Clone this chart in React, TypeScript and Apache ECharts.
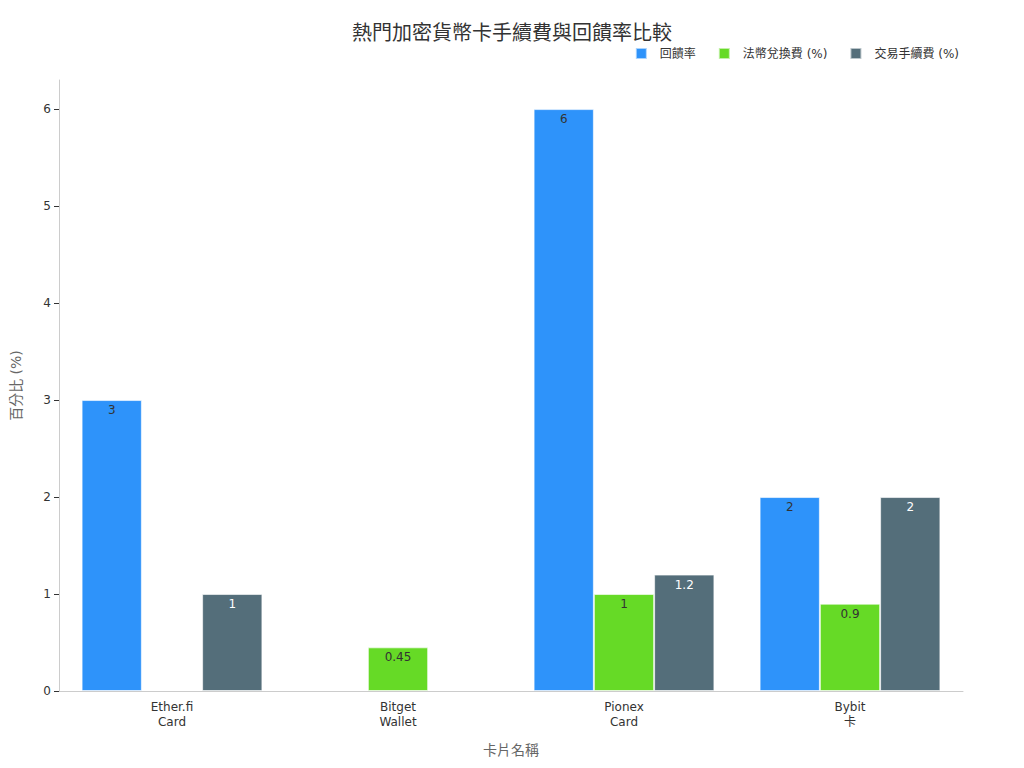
import { useEffect, useRef } from 'react';
import * as echarts from 'echarts';

const categories = ['Ether.fi\nCard', 'Bitget\nWallet', 'Pionex\nCard', 'Bybit\n卡'];
const seriesNames = ['回饋率', '法幣兌換費 (%)', '交易手續費 (%)'];
const cashback = [3, null, 6, 2];
const fxFee = [null, 0.45, 1, 0.9];
const tradeFee = [1, null, 1.2, 2];
const yTicks = [0, 1, 2, 3, 4, 5, 6];

const colors = ['#2E93FA', '#66DA26', '#546E7A'];
const labelColors = ['#333', '#333', '#fff'];
const font = '"DejaVu Sans", "Noto Sans CJK TC", sans-serif';

const App = () => {
    const chartRef = useRef<HTMLDivElement>(null);

    useEffect(() => {
        if (!chartRef.current) return;
        const chart = echarts.init(chartRef.current, null, { renderer: 'svg' });
        const values = [cashback, fxFee, tradeFee];

        chart.setOption({
            animation: false,
            textStyle: { fontFamily: font },
            title: {
                text: '熱門加密貨幣卡手續費與回饋率比較',
                left: 'center',
                top: 18,
                textStyle: { fontSize: 20, fontWeight: 'normal', color: '#333', fontFamily: font }
            },
            legend: {
                data: seriesNames,
                right: 60,
                top: 42,
                icon: 'rect',
                itemWidth: 11,
                itemHeight: 11,
                itemGap: 22,
                textStyle: { fontSize: 12, color: '#333', padding: [0, 0, 0, 8] }
            },
            grid: { left: 59, right: 61, top: 80, bottom: 77 },
            xAxis: {
                type: 'category',
                data: categories,
                name: '卡片名稱',
                nameLocation: 'middle',
                nameGap: 52,
                nameTextStyle: { fontSize: 14, color: '#666' },
                axisLine: { lineStyle: { color: '#ccc' } },
                axisTick: { alignWithLabel: true, lineStyle: { color: '#999' } },
                axisLabel: { color: '#333', fontSize: 12, lineHeight: 15 }
            },
            yAxis: {
                type: 'value',
                min: 0,
                max: 6.3,
                interval: 1,
                name: '百分比 (%)',
                nameLocation: 'middle',
                nameGap: 36,
                nameTextStyle: { fontSize: 14, color: '#666' },
                axisLine: { show: true, lineStyle: { color: '#ccc' } },
                axisTick: { show: true, customValues: yTicks, lineStyle: { color: '#333' } },
                axisLabel: { customValues: yTicks, color: '#333', fontSize: 12 },
                splitLine: { show: false }
            },
            series: seriesNames.map((name, i) => ({
                name,
                type: 'bar',
                data: values[i],
                barGap: '0%',
                barCategoryGap: '20%',
                itemStyle: { color: colors[i], borderColor: 'rgba(255,255,255,0.6)', borderWidth: 1 },
                label: {
                    show: true,
                    position: 'insideTop',
                    distance: 4,
                    color: labelColors[i],
                    fontSize: 12
                }
            }))
        });

        return () => chart.dispose();
    }, []);

    return <div ref={chartRef} style={{ position: 'absolute', left: 0, top: 0, width: 1024, height: 768 }} />;
};

export default App;
